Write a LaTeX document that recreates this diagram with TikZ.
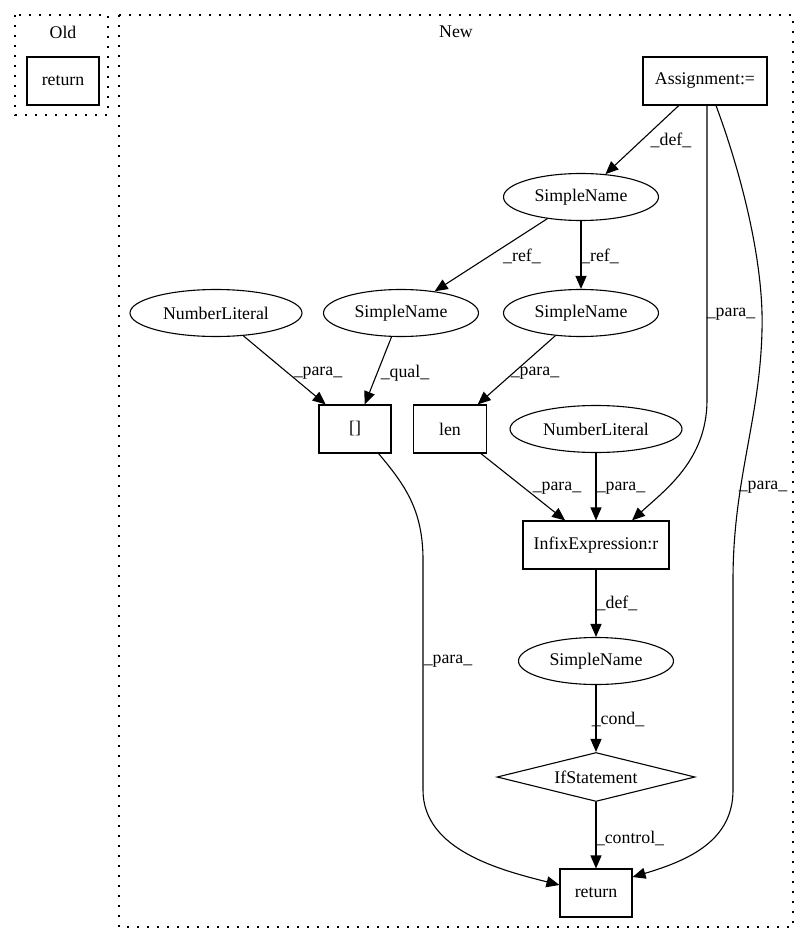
\documentclass[tikz,border=0pt]{standalone}
\usepackage{fontspec}
\setmainfont{Liberation Serif}
\usetikzlibrary{shapes.geometric,arrows.meta}
\tikzset{
  box/.style={draw, rectangle, line width=1.1pt, minimum height=48pt, inner sep=0pt},
  oval/.style={draw, ellipse, line width=1.1pt, minimum height=47pt, inner sep=0pt},
  lbl/.style={inner sep=0pt},
  cluster/.style={line width=1.4pt, dash pattern=on 1.6pt off 8.4pt}
}
\begin{document}
\begin{tikzpicture}[x=1pt, y=-1pt, font=\fontsize{17.8}{20}\selectfont,
    >={Triangle[length=13pt,width=11pt]}, every path/.style={line width=1.1pt}]
    \useasboundingbox (0,0) rectangle (809,944);
    \draw[cluster] (15,15) rectangle (108,115);
    \node (old) at (63,32) {Old};
    \draw[cluster] (119,15) rectangle (793,927);
    \node (new) at (456,32) {New};
    \node [box, minimum width=72pt] (oldret) at (63,81) {return};
    \node [box, minimum width=124pt] (asg) at (705,81) {Assignment:=};
    \node [oval, minimum width=155pt] (sn1) at (581,197) {SimpleName};
    \node [oval, minimum width=172pt] (nl1) at (216,313) {NumberLiteral};
    \node [oval, minimum width=155pt] (sn2) at (401,313) {SimpleName};
    \node [oval, minimum width=155pt] (sn3) at (581,313) {SimpleName};
    \node [box, minimum width=72pt] (brk) at (355,429) {[]};
    \node [box, minimum width=73pt] (len) at (450,429) {len};
    \node [oval, minimum width=172pt] (nl2) at (596,429) {NumberLiteral};
    \node [box, minimum width=146pt] (inf) at (596,545) {InfixExpression:r};
    \node [oval, minimum width=155pt] (sn4) at (596,661) {SimpleName};
    \node [draw, diamond, line width=1.1pt, shape aspect=4, inner sep=0pt,
           minimum width=198pt, minimum height=49pt] (ifst) at (596,777) {IfStatement};
    \node [box, minimum width=72pt] (ret) at (596,893) {return};
    \draw[->] (asg) -- (sn1);
    \node [lbl] (ldef1) at (671,140) {\_def\_};
    \draw[->] ([xshift=2pt]asg.south) -- (707,400) .. controls (707,460) and (665,490) .. ([xshift=36pt]inf.north);
    \node [lbl] (lpara1) at (731,314) {\_para\_};
    \draw[->] ([xshift=11pt]asg.south) .. controls (740,170) and (764,260) .. (762,330)
        .. controls (760,420) and (733,480) .. (733,580) -- (733,790)
        .. controls (733,840) and (690,860) .. ([yshift=16pt]ret.east);
    \node [lbl] (lpara2) at (763,487) {\_para\_};
    \draw[->] (sn1) -- (sn2);
    \node [lbl] (lref1) at (522,256) {\_ref\_};
    \draw[->] (sn1) -- (sn3);
    \node [lbl] (lref2) at (600,256) {\_ref\_};
    \draw[->] (nl1) -- (brk);
    \node [lbl] (lpara3) at (318,373) {\_para\_};
    \draw[->] (sn2) -- (brk);
    \node [lbl] (lqual) at (405,373) {\_qual\_};
    \draw[->] (sn3) -- (len);
    \node [lbl] (lpara4) at (535,373) {\_para\_};
    \draw[->] (len) -- (inf);
    \node [lbl] (lpara5) at (557,488) {\_para\_};
    \draw[->] (nl2) -- (inf);
    \node [lbl] (lpara6) at (621,488) {\_para\_};
    \draw[->] (inf) -- (sn4);
    \node [lbl] (ldef2) at (617,603) {\_def\_};
    \draw[->] (sn4) -- (ifst);
    \node [lbl] (lcond) at (618,719) {\_cond\_};
    \draw[->] (ifst) -- (ret);
    \node [lbl] (lcontrol) at (630,838) {\_control\_};
    \draw[->] ([xshift=-13pt]brk.south east) .. controls (405,485) and (423,510) .. (423,560) -- (423,790)
        .. controls (423,850) and (500,870) .. ([yshift=8pt]ret.west);
    \node [lbl] (lpara7) at (448,661) {\_para\_};
\end{tikzpicture}
\end{document}
